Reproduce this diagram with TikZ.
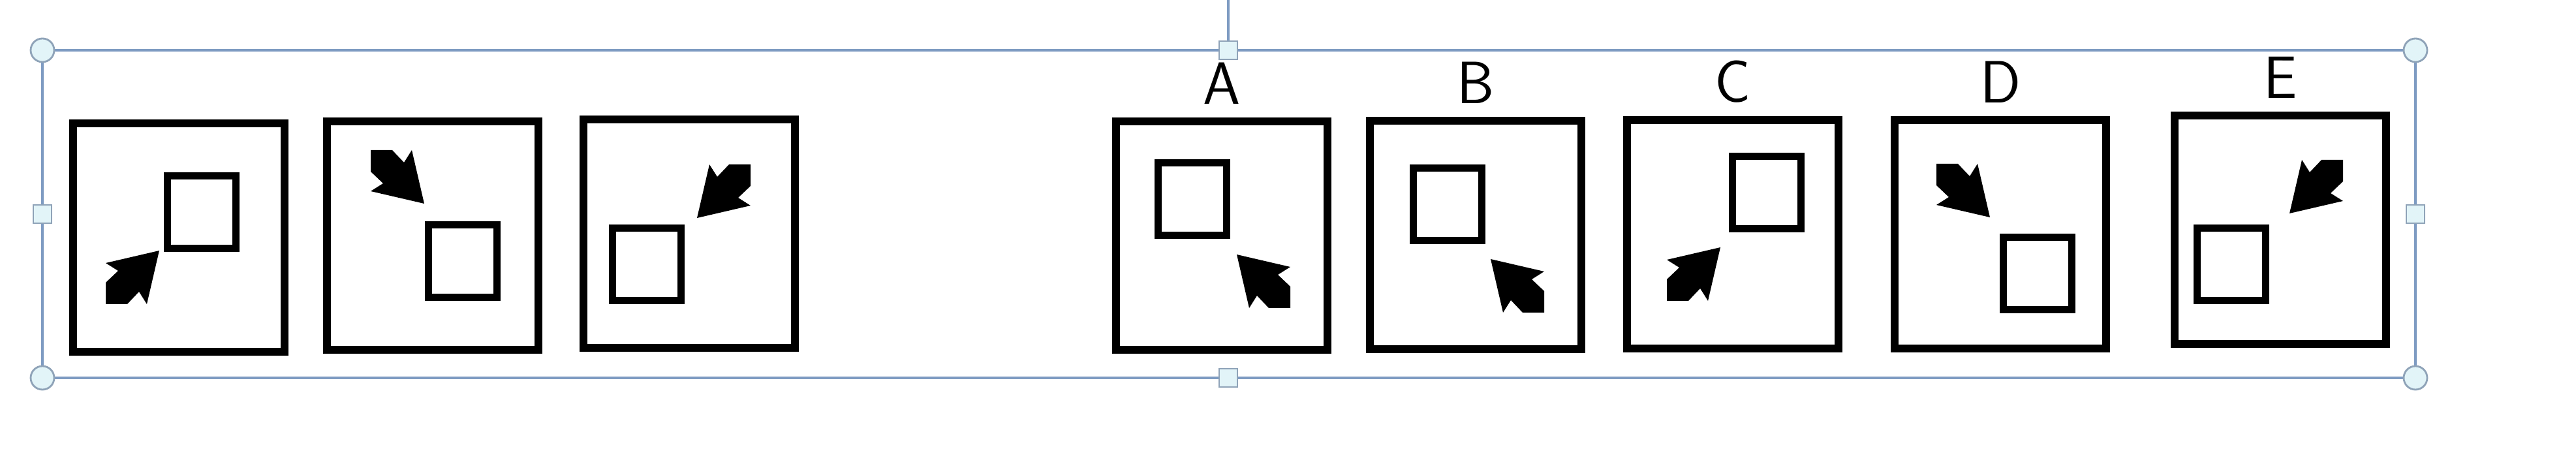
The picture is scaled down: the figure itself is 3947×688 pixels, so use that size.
\documentclass[tikz,border=0pt]{standalone}
\usepackage{fontspec}
\usepackage{tikz}
\usetikzlibrary{positioning}
\definecolor{frameblue}{HTML}{7E9BC2}
\definecolor{handlegrey}{HTML}{8FA3B8}
\definecolor{handlefill}{HTML}{E2F4F8}

\begin{document}
\begin{tikzpicture}[x=0.01cm,y=0.01cm]
\tikzset{
    panel/.style={draw, line width=3.4pt, minimum width=3.24cm, minimum height=3.5cm, inner sep=0pt},
    box/.style={draw, line width=3.1pt, minimum width=1.05cm, minimum height=1.11cm, inner sep=0pt},
    letter/.style={font=\sffamily\fontsize{26}{30}\selectfont, inner sep=0pt},
    selframe/.style={draw=frameblue, line width=1.1pt},
    handle/.style={draw=handlegrey, fill=handlefill, line width=0.8pt, inner sep=0pt},
    dart/.pic={\fill (41,41) -- (-41,22) -- (-22,10) -- (-41,-8) -- (-41,-41)
        -- (-8,-41) -- (10,-22) -- (22,-41) -- cycle;}
}
\useasboundingbox (0,0) rectangle (3947,688);

% selection frame
\draw[selframe] (65,109) rectangle (3701,611);
\coordinate (rot) at (1882,688);
\node[handle, circle, minimum size=0.36cm] (hnw) at (65,611) {};
\node[handle, circle, minimum size=0.36cm] (hne) at (3701,611) {};
\node[handle, circle, minimum size=0.36cm] (hsw) at (65,109) {};
\node[handle, circle, minimum size=0.36cm] (hse) at (3701,109) {};
\node[handle, minimum size=0.28cm] (hn) at (1882,611) {};
\node[handle, minimum size=0.28cm] (hs) at (1882,109) {};
\node[handle, minimum size=0.28cm] (hw) at (65,360) {};
\node[handle, minimum size=0.28cm] (he) at (3701,360) {};
\draw[selframe] (hn.north) -- (rot);

% question row
\node[panel] (q1) at (274,324) {};
\node[panel] (q2) at (663,327) {};
\node[panel] (q3) at (1056,330) {};
\node[box] (s1) at (309,363) {};
\node[box] (s2) at (709,288) {};
\node[box] (s3) at (991,283) {};
\pic at (203,263) {dart};
\pic[rotate=-90] at (609,417) {dart};
\pic[rotate=180] at (1109,395) {dart};

% answers
\node[panel] (pa) at (1872,327) {};
\node[panel] (pb) at (2261,328) {};
\node[panel] (pc) at (2655,329) {};
\node[panel] (pd) at (3065,329) {};
\node[panel] (pe) at (3494,336) {};
\node[box] (sa) at (1827,383) {};
\node[box] (sb) at (2218,375) {};
\node[box] (sc) at (2707,393) {};
\node[box] (sd) at (3122,269) {};
\node[box] (se) at (3419,283) {};
\pic[rotate=90] at (1936,257) {dart};
\pic[rotate=90] at (2325,250) {dart};
\pic at (2595,268) {dart};
\pic[rotate=-90] at (3008,396) {dart};
\pic[rotate=180] at (3549,402) {dart};

\node[letter, above=0.2cm of pa] (la) {A};
\node[letter, above=0.2cm of pb] (lb) {B};
\node[letter, above=0.2cm of pc] (lc) {C};
\node[letter, above=0.2cm of pd] (ld) {D};
\node[letter, above=0.2cm of pe] (le) {E};

\end{tikzpicture}
\end{document}
